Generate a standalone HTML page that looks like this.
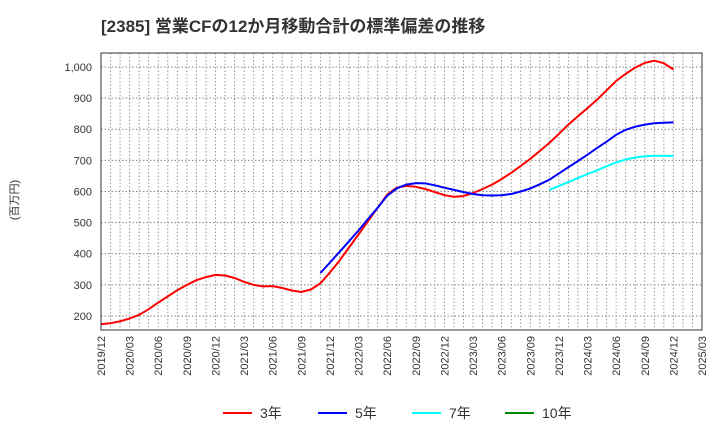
<!DOCTYPE html>
<html><head><meta charset="utf-8"><style>
body{margin:0;background:#fff;}
svg text{font-family:"Liberation Sans","Noto Sans CJK JP",sans-serif;}
</style></head><body>
<svg id="c" width="720" height="440" xmlns="http://www.w3.org/2000/svg">
<text x="101" y="32" font-size="17" font-weight="bold" fill="#333">[2385]  営業CFの12か月移動合計の標準偏差の推移</text>
<text transform="translate(18,200) rotate(-90)" font-size="11" fill="#333" text-anchor="middle">(百万円)</text>
<g id="grid"></g><g id="series"></g><g id="axes"></g>
<g>
<line x1="223" y1="413" x2="252" y2="413" stroke="#f00" stroke-width="2"/><text x="260" y="418" font-size="14" fill="#333">3年</text>
<line x1="318" y1="413" x2="347" y2="413" stroke="#00f" stroke-width="2"/><text x="355" y="418" font-size="14" fill="#333">5年</text>
<line x1="412" y1="413" x2="441" y2="413" stroke="#0ff" stroke-width="2"/><text x="449" y="418" font-size="14" fill="#333">7年</text>
<line x1="505" y1="413" x2="534" y2="413" stroke="#080" stroke-width="2"/><text x="542" y="418" font-size="14" fill="#333">10年</text>
</g>
</svg>
<script>
const xLabels=["2019/12","2020/03","2020/06","2020/09","2020/12","2021/03","2021/06","2021/09","2021/12","2022/03","2022/06","2022/09","2022/12","2023/03","2023/06","2023/09","2023/12","2024/03","2024/06","2024/09","2024/12","2025/03"];
const yTicks=[200,300,400,500,600,700,800,900,1000];
const red=[174,177,183,192,204,222,243,263,283,300,315,325,332,330,322,310,300,295,296,290,282,277,285,305,340,378,420,462,505,548,590,612,618,615,608,598,588,583,585,595,608,622,640,660,682,705,730,756,785,815,842,868,895,925,955,978,998,1013,1020,1012,992];
const blueStart=23;
const blue=[338,372,406,440,475,512,548,586,610,622,627,626,620,612,605,598,592,588,587,588,592,600,610,623,638,658,678,698,718,740,760,782,798,808,815,819,821,822];
const cyanStart=47;
const cyan=[605,618,630,643,656,668,681,693,703,709,713,715,715,714];
const L=101,R=702,T=53,B=330,NM=63;
const X=m=>L+(R-L)*m/NM;
const Y=v=>316-(v-200)*0.3113;
const NS="http://www.w3.org/2000/svg";
function mk(tag,attrs,parent,txt){const e=document.createElementNS(NS,tag);for(const k in attrs)e.setAttribute(k,attrs[k]);if(txt!==undefined)e.textContent=txt;document.getElementById(parent).appendChild(e);return e;}
for(let m=1;m<NM;m++){const l=mk('line',{x1:X(m),x2:X(m),y1:T,y2:B,stroke:'#999','stroke-dasharray':'1.5,2','stroke-width':1},'grid');

}
yTicks.forEach(v=>{const l=mk('line',{x1:L,x2:R,y1:Y(v),y2:Y(v),stroke:'#888','stroke-dasharray':'1.5,2','stroke-width':1},'grid');


const t=mk('text',{x:L-9,y:Y(v)+4,'font-size':11,fill:'#333','text-anchor':'end'},'axes',v.toLocaleString('en-US'));

});
const fr=mk('rect',{x:L,y:T,width:R-L,height:B-T,fill:'none',stroke:'#333','stroke-width':1},'axes');


xLabels.forEach((s,i)=>{const x=X(i*3);const t=mk('text',{transform:`translate(${x+4},336) rotate(-90)`,'font-size':11,fill:'#333','text-anchor':'end'},'axes',s);

});
function line(arr,start,color,name){const d=arr.map((v,i)=>(i?'L':'M')+X(start+i).toFixed(1)+','+Y(v).toFixed(1)).join(' ');
const p=mk('path',{d:d,fill:'none',stroke:color,'stroke-width':2,'stroke-linejoin':'round'},'series');

}
line(red,0,'#f00','series-3y');
line(blue,blueStart,'#00f','series-5y');
line(cyan,cyanStart,'#0ff','series-7y');
</script>
</body></html>
